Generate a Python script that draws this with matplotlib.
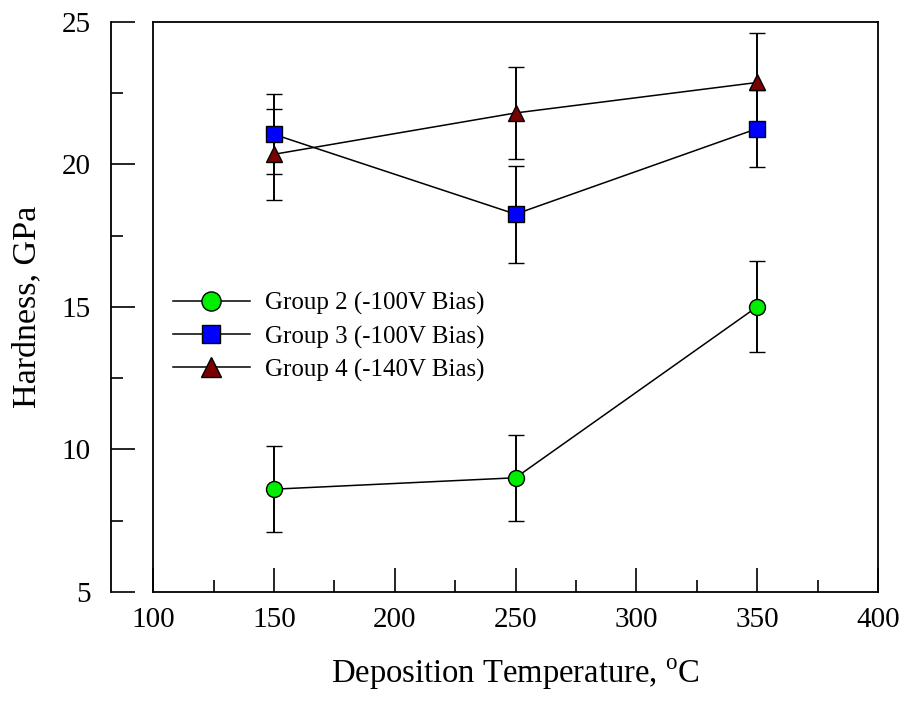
#!/usr/bin/python3
"""
Hardness vs deposition temperature for the bias groups.
"""
import matplotlib
matplotlib.use('Agg')
import matplotlib.pyplot as plt
from matplotlib.ticker import MultipleLocator

# data
temperature = [150, 250, 350]
group2_hardness = [8.6, 9.0, 15.0]
group2_err = [1.5, 1.5, 1.6]
group3_hardness = [21.05, 18.25, 21.25]
group3_err = [1.4, 1.7, 1.36]
group4_hardness = [20.35, 21.8, 22.87]
group4_err = [1.6, 1.6, 1.75]
labels = ['Group 2 (-100V Bias)', 'Group 3 (-100V Bias)',
          'Group 4 (-140V Bias)']


def format_plotting():
    plt.rcParams['font.family'] = 'Liberation Serif'
    plt.rcParams['font.size'] = 21
    plt.rcParams['axes.linewidth'] = 1.3
    plt.rcParams['lines.linewidth'] = 1.1


def plot_hardness():
    format_plotting()
    fig = plt.figure(figsize=(9.06, 7.02), dpi=100)
    ax = fig.add_axes([0.169, 0.157, 0.8, 0.812])

    series = [
        (group2_hardness, group2_err, 'o', '#00ee00', 11.5),
        (group3_hardness, group3_err, 's', '#0000ff', 11),
        (group4_hardness, group4_err, '^', '#7a0000', 12),
    ]
    handles = []
    for vals, err, mk, col, ms in series:
        cont = ax.errorbar(temperature, vals, yerr=err, color='black',
                           ecolor='black', elinewidth=1.4, capsize=6,
                           capthick=1.4, marker=mk, markersize=ms,
                           markerfacecolor=col, markeredgecolor='black',
                           markeredgewidth=1.0, linewidth=1.1)
        handles.append(cont[0])

    ax.set_xlim(100, 400)
    ax.set_ylim(5, 25)
    ax.xaxis.set_major_locator(MultipleLocator(50))
    ax.xaxis.set_minor_locator(MultipleLocator(25))
    ax.yaxis.set_major_locator(MultipleLocator(5))
    ax.yaxis.set_minor_locator(MultipleLocator(2.5))

    # detached y axis, box keeps its own left edge
    ax.spines['left'].set_position(('outward', 30))
    ax.axvline(100, color='black', linewidth=1.3, clip_on=False)

    ax.tick_params(which='both', direction='in', top=False, right=False,
                   width=1.2)
    ax.tick_params(which='major', length=17)
    ax.tick_params(which='minor', length=8.5)
    ax.tick_params(axis='y', pad=15)
    ax.tick_params(axis='x', pad=11)

    ax.set_xlabel('Deposition Temperature, $^{\\mathregular{o}}$C',
                  fontsize=23.5, labelpad=17)
    ax.set_ylabel('Hardness, GPa', fontsize=24.5, labelpad=14)

    ax.legend(handles, labels, loc='center left',
              bbox_to_anchor=(0.027, 0.447), frameon=False, fontsize=18,
              borderpad=0, borderaxespad=0, handlelength=3.1,
              handletextpad=0.6, labelspacing=0.4, markerscale=1.2)

    fig.savefig('out.png', dpi=100)


if __name__ == "__main__":
    plot_hardness()
